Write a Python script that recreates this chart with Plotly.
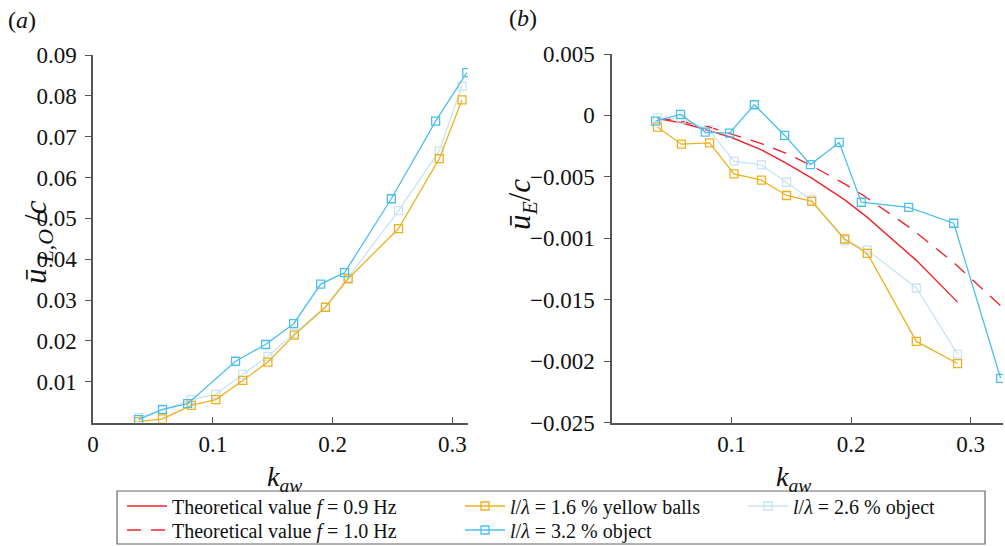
import plotly.graph_objects as go

# ---------------- data ----------------
# Panel (a): u_L,O / c
xa_yellow = [0.038, 0.058, 0.082, 0.1025, 0.125, 0.146, 0.168, 0.194, 0.213, 0.255, 0.289, 0.308]
ya_yellow = [0.0002, 0.0009, 0.0042, 0.0056, 0.0103, 0.0148, 0.0214, 0.0282, 0.0352, 0.0475, 0.0646, 0.0790]
xa_light = [0.038, 0.058, 0.082, 0.1025, 0.125, 0.146, 0.168, 0.194, 0.213, 0.255, 0.289, 0.308]
ya_light = [0.0012, 0.0030, 0.0056, 0.0069, 0.0118, 0.0162, 0.0218, 0.0284, 0.0355, 0.0519, 0.0665, 0.0824]
xa_blue = [0.038, 0.058, 0.079, 0.119, 0.144, 0.1675, 0.190, 0.210, 0.249, 0.286, 0.312]
ya_blue = [0.0007, 0.0032, 0.0046, 0.0150, 0.0191, 0.0242, 0.0339, 0.0367, 0.0548, 0.0738, 0.0857]

# Panel (b): u_E / c
xb_yellow = [0.038, 0.058, 0.0816, 0.102, 0.125, 0.146, 0.167, 0.1946, 0.2135, 0.2545, 0.289]
yb_yellow = [-0.00095, -0.00234, -0.00223, -0.00476, -0.00527, -0.00652, -0.0070, -0.01006, -0.01123, -0.0184, -0.0202]
xb_light = [0.038, 0.058, 0.0808, 0.102, 0.125, 0.146, 0.167, 0.1946, 0.2135, 0.2545, 0.289]
yb_light = [-0.0002, -0.0003, -0.00114, -0.00372, -0.00402, -0.00544, -0.0069, -0.0102, -0.01096, -0.01405, -0.01944]
xb_blue = [0.0364, 0.0573, 0.078, 0.0983, 0.119, 0.1444, 0.166, 0.190, 0.2085, 0.248, 0.2858, 0.325]
yb_blue = [-0.00046, 0.00008, -0.00136, -0.00144, 0.00087, -0.00163, -0.0040, -0.0022, -0.00707, -0.00748, -0.00878, -0.0214]

x_theo09 = [0.038, 0.058, 0.080, 0.100, 0.125, 0.146, 0.167, 0.195, 0.2135, 0.2545, 0.289]
y_theo09 = [-0.00026, -0.0006, -0.0012, -0.0018, -0.0028, -0.0039, -0.0051, -0.0069, -0.0083, -0.0118, -0.0152]
x_theo10 = [0.038, 0.058, 0.080, 0.100, 0.125, 0.146, 0.167, 0.195, 0.210, 0.250, 0.286, 0.325]
y_theo10 = [-0.0002, -0.0005, -0.0009, -0.0015, -0.0023, -0.0031, -0.0041, -0.0056, -0.0065, -0.0092, -0.0120, -0.0155]

ya_ticks = [0.01, 0.02, 0.03, 0.04, 0.05, 0.06, 0.07, 0.08, 0.09]
ya_ticktext = ["0.01", "0.02", "0.03", "0.04", "0.05", "0.06", "0.07", "0.08", "0.09"]
yb_ticks = [0.005, 0, -0.005, -0.01, -0.015, -0.02, -0.025]
yb_ticktext = ["0.005", "0", "\u22120.005", "\u22120.001", "\u22120.015", "\u22120.002", "\u22120.025"]
xa_ticks = [0, 0.1, 0.2, 0.3]
xa_ticktext = ["0", "0.1", "0.2", "0.3"]
xb_ticks = [0.1, 0.2, 0.3]
xb_ticktext = ["0.1", "0.2", "0.3"]

names = {
    "t09": "Theoretical value <i>f</i> = 0.9 Hz",
    "t10": "Theoretical value <i>f</i> = 1.0 Hz",
    "y16": "<i>l</i>/<i>\u03bb</i> = 1.6 % yellow balls",
    "b32": "<i>l</i>/<i>\u03bb</i> = 3.2 % object",
    "l26": "<i>l</i>/<i>\u03bb</i> = 2.6 % object",
}

# ---------------- style ----------------
W, H = 1005, 546
FONT = "Liberation Serif, Times New Roman, serif"
YELLOW = "#EDB120"
BLUE = "#4DBEEE"
LIGHT = "#C9E4F3"
RED = "#F0262E"
AXC = "#555555"


def px_x(p):
    return p / W


def px_y(p):
    return 1 - p / H


fig = go.Figure()

mk = dict(symbol="square-open", size=8, line=dict(width=1.3))

# Panel (a)
fig.add_trace(go.Scatter(x=xa_light, y=ya_light, mode="lines+markers", line=dict(color=LIGHT, width=1.3),
                         marker=dict(color=LIGHT, **mk), showlegend=False, xaxis="x", yaxis="y"))
fig.add_trace(go.Scatter(x=xa_yellow, y=ya_yellow, mode="lines+markers", line=dict(color=YELLOW, width=1.3),
                         marker=dict(color=YELLOW, **mk), showlegend=False, xaxis="x", yaxis="y"))
fig.add_trace(go.Scatter(x=xa_blue, y=ya_blue, mode="lines+markers", line=dict(color=BLUE, width=1.3),
                         marker=dict(color=BLUE, **mk), showlegend=False, xaxis="x", yaxis="y"))

# Panel (b)
fig.add_trace(go.Scatter(x=x_theo09, y=y_theo09, mode="lines", line=dict(color=RED, width=1.4),
                         name=names["t09"], legend="legend", xaxis="x2", yaxis="y2"))
fig.add_trace(go.Scatter(x=x_theo10, y=y_theo10, mode="lines", line=dict(color=RED, width=1.4, dash="14px,10px"),
                         name=names["t10"], legend="legend2", xaxis="x2", yaxis="y2"))
fig.add_trace(go.Scatter(x=xb_light, y=yb_light, mode="lines+markers", line=dict(color=LIGHT, width=1.3),
                         marker=dict(color=LIGHT, **mk), name=names["l26"], legend="legend5", xaxis="x2", yaxis="y2"))
fig.add_trace(go.Scatter(x=xb_yellow, y=yb_yellow, mode="lines+markers", line=dict(color=YELLOW, width=1.3),
                         marker=dict(color=YELLOW, **mk), name=names["y16"], legend="legend3", xaxis="x2", yaxis="y2"))
fig.add_trace(go.Scatter(x=xb_blue, y=yb_blue, mode="lines+markers", line=dict(color=BLUE, width=1.3),
                         marker=dict(color=BLUE, **mk), name=names["b32"], legend="legend4", xaxis="x2", yaxis="y2"))

tickfont = dict(family=FONT, size=23, color="#111")
axcommon = dict(showgrid=False, zeroline=False, showline=True, linecolor=AXC, linewidth=1.5,
                tickcolor=AXC, ticklen=6, tickwidth=1.2, tickfont=tickfont, mirror=False,
                automargin=False)

y_bot = px_y(422.5)
y_top_a = px_y(55)
y_top_b = px_y(54)

legfont = dict(family=FONT, size=20, color="#111")


def leg(xpx, row_center):
    return dict(orientation="v", font=legfont, bgcolor="rgba(0,0,0,0)", borderwidth=0,
                xanchor="left", yanchor="middle", itemwidth=40,
                x=px_x(xpx), y=px_y(row_center))


fig.update_layout(
    width=W, height=H,
    margin=dict(l=0, r=0, t=0, b=0, pad=0, autoexpand=False),
    paper_bgcolor="white", plot_bgcolor="white",
    font=dict(family=FONT, color="#111"),
    xaxis=dict(domain=[px_x(93), px_x(468)], range=[0, 0.313], anchor="y",
               tickvals=xa_ticks, ticktext=xa_ticktext, ticks="inside", ticklabelstandoff=0, **axcommon),
    yaxis=dict(domain=[y_bot, y_top_a], range=[0, 0.09], anchor="x",
               tickvals=ya_ticks, ticktext=ya_ticktext, ticks="outside", ticklabelstandoff=4, **axcommon),
    xaxis2=dict(domain=[px_x(612), px_x(1003)], range=[0, 0.327], anchor="y2",
                tickvals=xb_ticks, ticktext=xb_ticktext, ticks="inside", ticklabelstandoff=0, **axcommon),
    yaxis2=dict(domain=[y_bot, y_top_b], range=[-0.025, 0.005], anchor="x2",
                tickvals=yb_ticks, ticktext=yb_ticktext, ticks="outside", ticklabelstandoff=5, **axcommon),
    legend=leg(122, 506),
    legend2=leg(122, 530),
    legend3=leg(460, 506),
    legend4=leg(460, 530),
    legend5=leg(743, 506),
    shapes=[dict(type="rect", xref="paper", yref="paper",
                 x0=px_x(117), x1=px_x(985), y0=px_y(544), y1=px_y(491),
                 line=dict(color="#666", width=1.2), fillcolor="rgba(0,0,0,0)")],
    annotations=[
        dict(text="(<i>a</i>)", x=px_x(6), y=px_y(20), xref="paper", yref="paper",
             xanchor="left", yanchor="middle", showarrow=False, font=dict(family=FONT, size=24)),
        dict(text="(<i>b</i>)", x=px_x(507), y=px_y(18), xref="paper", yref="paper",
             xanchor="left", yanchor="middle", showarrow=False, font=dict(family=FONT, size=24)),
        dict(text="<i>k</i><sub><i>aw</i></sub>", x=px_x(284), y=px_y(478), xref="paper", yref="paper",
             xanchor="center", yanchor="middle", showarrow=False, font=dict(family=FONT, size=28)),
        dict(text="<i>k</i><sub><i>aw</i></sub>", x=px_x(793), y=px_y(478), xref="paper", yref="paper",
             xanchor="center", yanchor="middle", showarrow=False, font=dict(family=FONT, size=28)),
        dict(text="<i>\u016b</i>\u2009<sub><i>L,O</i></sub>\u2009/<i>c</i>", x=px_x(38), y=px_y(242),
             xref="paper", yref="paper",
             xanchor="center", yanchor="middle", showarrow=False, textangle=-90,
             font=dict(family=FONT, size=31)),
        dict(text="<i>\u016b</i><sub><i>E</i></sub>/<i>c</i>", x=px_x(522), y=px_y(205), xref="paper", yref="paper",
             xanchor="center", yanchor="middle", showarrow=False, textangle=-90,
             font=dict(family=FONT, size=31)),
    ],
)

fig.write_html("out.html")
